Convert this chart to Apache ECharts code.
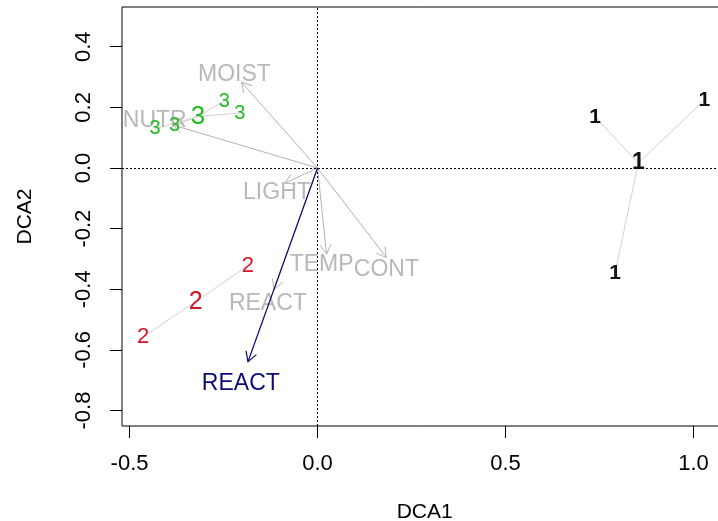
<!DOCTYPE html>
<html>
<head>
<meta charset="utf-8">
<script src="https://cdn.jsdelivr.net/npm/echarts@6/dist/echarts.min.js"></script>
<style>html,body{margin:0;padding:0;background:#fff;}#c{width:718px;height:521px;}</style>
</head>
<body>
<div id="c"></div>
<script>
// ---- data ----
const xTicks = [-0.5, 0.0, 0.5, 1.0];
const yTicks = [-0.8, -0.6, -0.4, -0.2, 0.0, 0.2, 0.4];
const xTitle = 'DCA1';
const yTitle = 'DCA2';

const groupNames = ['1', '2', '3'];
const site1X = [0.738, 1.029, 0.791];
const site1Y = [0.169, 0.224, -0.348];
const site2X = [-0.464, -0.185];
const site2Y = [-0.557, -0.322];
const site3X = [-0.432, -0.380, -0.248, -0.207];
const site3Y = [0.129, 0.140, 0.221, 0.181];
const centroidX = [0.853, -0.324, -0.318];
const centroidY = [0.016, -0.441, 0.170];

const envNames = ['MOIST', 'NUTR', 'LIGHT', 'TEMP', 'CONT', 'REACT'];
const envX = [-0.202, -0.385, -0.087, 0.024, 0.183, -0.115];
const envY = [0.283, 0.142, -0.050, -0.284, -0.295, -0.400];
const envLabelX = [-0.221, -0.433, -0.108, 0.011, 0.183, -0.132];
const envLabelY = [0.309, 0.157, -0.081, -0.318, -0.335, -0.449];

const activeNames = ['REACT'];
const activeX = [-0.185];
const activeY = [-0.639];
const activeLabelX = [-0.204];
const activeLabelY = [-0.710];

// ---- styles ----
const FONT = 'Liberation Sans';
const groupColors = ['#111111', '#d41526', '#22bb22'];
const groupWeight = ['bold', 'normal', 'normal'];
const siteFont = [21, 22, 20];
const centroidFont = [23, 25, 26];
const envColor = '#b3b3b3';
const envTextColor = '#b8b8b8';
const activeColor = '#0a0a78';
const spiderColor = '#d2d2d2';

const sitesX = [site1X, site2X, site3X];
const sitesY = [site1Y, site2Y, site3Y];

function arrowRender(color, width) {
  return function (params, api) {
    const o = api.coord([0, 0]);
    const t = api.coord([api.value(0), api.value(1)]);
    const ang = Math.atan2(t[1] - o[1], t[0] - o[0]);
    const L = 11, A = Math.PI / 6;
    const h1 = [t[0] - L * Math.cos(ang - A), t[1] - L * Math.sin(ang - A)];
    const h2 = [t[0] - L * Math.cos(ang + A), t[1] - L * Math.sin(ang + A)];
    return {
      type: 'group',
      children: [
        { type: 'line', shape: { x1: o[0], y1: o[1], x2: t[0], y2: t[1] }, style: { stroke: color, lineWidth: width } },
        { type: 'polyline', shape: { points: [h1, t, h2] }, style: { stroke: color, fill: null, lineWidth: width } }
      ]
    };
  };
}

const hidden = { color: 'rgba(0,0,0,0)' };
function txt(color, size, weight) {
  return { show: true, position: 'inside', color: color, fontFamily: FONT, fontSize: size,
    fontWeight: weight || 'normal', textBorderWidth: 0, textBorderColor: 'transparent', opacity: 1 };
}
const series = [];

// zero reference lines
series.push({
  type: 'scatter', data: [], silent: true,
  markLine: {
    silent: true, symbol: ['none', 'none'], label: { show: false },
    lineStyle: { color: '#000', type: [2, 2], width: 1 },
    emphasis: { disabled: true },
    data: [{ xAxis: 0 }, { yAxis: 0 }]
  }
});

// spider lines
groupNames.forEach(function (g, gi) {
  series.push({
    type: 'lines', coordinateSystem: 'cartesian2d', silent: true, z: 2,
    lineStyle: { color: spiderColor, width: 1, opacity: 1 },
    data: sitesX[gi].map(function (x, i) {
      return { coords: [[centroidX[gi], centroidY[gi]], [x, sitesY[gi][i]]] };
    })
  });
});

// env arrows (grey)
series.push({
  type: 'custom', silent: true, z: 3, encode: { x: 0, y: 1 },
  renderItem: arrowRender(envColor, 1),
  data: envX.map(function (x, i) { return [x, envY[i]]; })
});
// env labels
series.push({
  type: 'scatter', silent: true, z: 3, symbolSize: 1, itemStyle: hidden,
  label: Object.assign(txt(envTextColor, 23), { formatter: '{b}' }),
  data: envNames.map(function (n, i) { return { name: n, value: [envLabelX[i], envLabelY[i]] }; })
});

// site labels
groupNames.forEach(function (g, gi) {
  series.push({
    type: 'scatter', silent: true, z: 4, symbolSize: 1, itemStyle: hidden,
    label: Object.assign(txt(groupColors[gi], siteFont[gi], groupWeight[gi]), { formatter: g }),
    data: sitesX[gi].map(function (x, i) { return [x, sitesY[gi][i]]; })
  });
});
// centroid labels
series.push({
  type: 'scatter', silent: true, z: 4, symbolSize: 1, itemStyle: hidden,
  data: groupNames.map(function (g, gi) {
    return {
      name: g, value: [centroidX[gi], centroidY[gi]],
      label: Object.assign(txt(groupColors[gi], centroidFont[gi], groupWeight[gi]), { formatter: '{b}' })
    };
  })
});

// active arrow (navy)
series.push({
  type: 'custom', silent: true, z: 5, encode: { x: 0, y: 1 },
  renderItem: arrowRender(activeColor, 1.2),
  data: activeX.map(function (x, i) { return [x, activeY[i]]; })
});
series.push({
  type: 'scatter', silent: true, z: 5, symbolSize: 1, itemStyle: hidden,
  label: Object.assign(txt(activeColor, 23), { formatter: '{b}' }),
  data: activeNames.map(function (n, i) { return { name: n, value: [activeLabelX[i], activeLabelY[i]] }; })
});

const chart = echarts.init(document.getElementById('c'), null, { renderer: 'canvas' });
chart.setOption({
  animation: false,
  backgroundColor: '#ffffff',
  grid: { left: 122, top: 7, width: 605.4, height: 419, show: true, borderColor: '#000', borderWidth: 1,
    backgroundColor: 'transparent', containLabel: false, outerBoundsMode: 'none' },
  xAxis: {
    type: 'value', min: -0.52, max: 1.09,
    name: xTitle, nameLocation: 'middle', nameGap: 76,
    nameTextStyle: { fontFamily: FONT, fontSize: 21, color: '#000' },
    axisLine: { show: false, onZero: false },
    axisTick: { show: true, customValues: xTicks, length: 12, lineStyle: { color: '#000' } },
    axisLabel: { show: true, customValues: xTicks, margin: 27, fontFamily: FONT, fontSize: 22, color: '#000',
      formatter: function (v) { return v.toFixed(1); } },
    splitLine: { show: false }
  },
  yAxis: {
    type: 'value', min: -0.851, max: 0.531,
    name: yTitle, nameLocation: 'middle', nameGap: 86, nameRotate: 90,
    nameTextStyle: { fontFamily: FONT, fontSize: 21, color: '#000' },
    axisLine: { show: false, onZero: false },
    axisTick: { show: true, customValues: yTicks, length: 12, lineStyle: { color: '#000' } },
    axisLabel: { show: true, customValues: yTicks, rotate: 90, margin: 27, fontFamily: FONT, fontSize: 22, color: '#000',
      formatter: function (v) { return v.toFixed(1); } },
    splitLine: { show: false }
  },
  series: series
});
</script>
</body>
</html>
